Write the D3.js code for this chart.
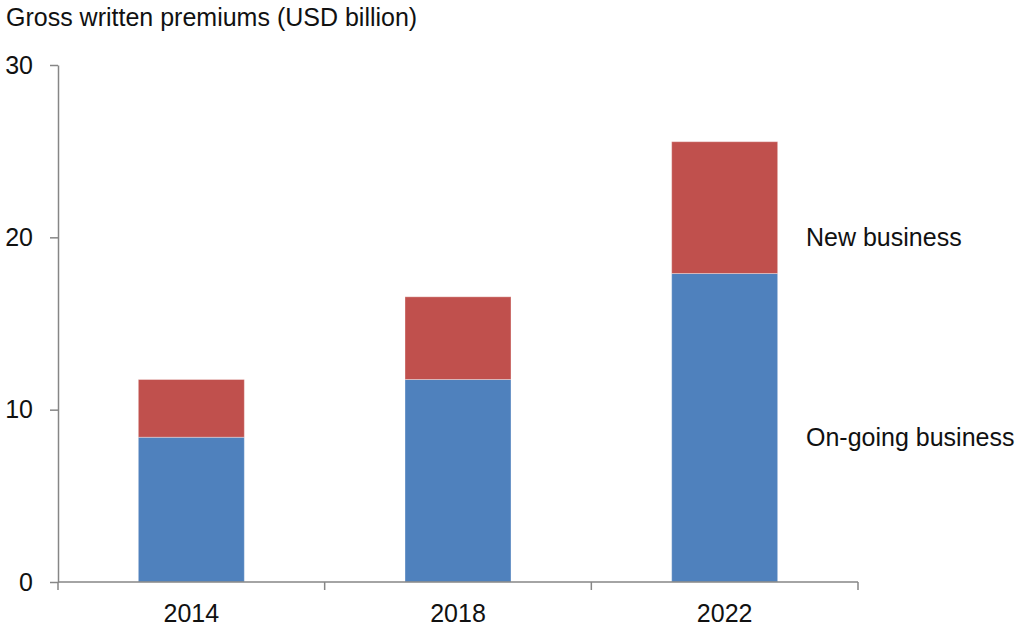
<!DOCTYPE html>
<html><head><meta charset="utf-8">
<script src="https://cdn.jsdelivr.net/npm/d3@7"></script>
<style>body{margin:0;background:#fff}text{font-family:"Liberation Sans",Arial,sans-serif}</style>
</head><body>
<svg id="c" width="1017" height="627"></svg>
<script>
const categories = ["2014", "2018", "2022"];
const ongoing = [8.4, 11.75, 17.9];
const newBusiness = [3.35, 4.8, 7.65];
const yTicks = [0, 10, 20, 30];
const seriesNames = ["On-going business", "New business"];
const colors = ["#4F81BD", "#C0504D"];

(function () {
const svg = d3.select("#c");
const fs = 25;
const mLeft = 58, mRight = 858, mTop = 65, mBottom = 582;
const x = d3.scaleBand().domain(categories).range([mLeft, mRight]).paddingInner(0.6025).paddingOuter(0.30125);
const y = d3.scaleLinear().domain([0, 30]).range([mBottom, mTop]);

svg.append("text").attr("x", 6).attr("y", 26).attr("font-size", fs).attr("fill", "#111")
  .text("Gross written premiums (USD billion)");

const data = categories.map((c, i) => ({cat: c, vals: [ongoing[i], newBusiness[i]]}));
data.forEach(d => {
  let base = 0;
  d.vals.forEach((v, j) => {
    svg.append("rect").attr("x", x(d.cat)).attr("width", x.bandwidth())
      .attr("y", y(base + v)).attr("height", y(base) - y(base + v))
      .attr("fill", colors[j]).attr("stroke", "rgba(255,255,255,0.35)").attr("stroke-width", 1);
    base += v;
  });
});

// y axis
const ya = svg.append("g").attr("transform", `translate(${mLeft},0)`)
  .call(d3.axisLeft(y).tickValues(yTicks).tickSize(8).tickPadding(17).tickSizeOuter(0));
ya.select(".domain").attr("stroke", "#868686").attr("stroke-width", 1.5);
ya.selectAll(".tick line").attr("stroke", "#868686").attr("stroke-width", 1.5);
ya.selectAll("text").attr("font-size", fs).attr("fill", "#111").attr("font-family", "Liberation Sans, Arial, sans-serif");

// x axis
const step = x.step();
const bounds = categories.map(c => x(c) - (step - x.bandwidth()) / 2).concat([mRight]);
svg.append("line").attr("x1", mLeft).attr("x2", mRight).attr("y1", mBottom).attr("y2", mBottom)
  .attr("stroke", "#868686").attr("stroke-width", 1.5);
svg.selectAll(".xt").data(bounds).enter().append("line")
  .attr("x1", d => d).attr("x2", d => d).attr("y1", mBottom).attr("y2", mBottom + 8)
  .attr("stroke", "#868686").attr("stroke-width", 1.5);
svg.selectAll(".xl").data(categories).enter().append("text")
  .attr("x", d => x(d) + x.bandwidth() / 2).attr("y", mBottom + 40)
  .attr("text-anchor", "middle").attr("font-size", fs).attr("fill", "#111").text(d => d);

// series labels
svg.append("text").attr("x", 806).attr("y", y(8.4)).attr("dy", "0.35em")
  .attr("font-size", fs).attr("fill", "#111").text(seriesNames[0]);
svg.append("text").attr("x", 806).attr("y", y(20)).attr("dy", "0.35em")
  .attr("font-size", fs).attr("fill", "#111").text(seriesNames[1]);
})();
</script>
</body></html>
